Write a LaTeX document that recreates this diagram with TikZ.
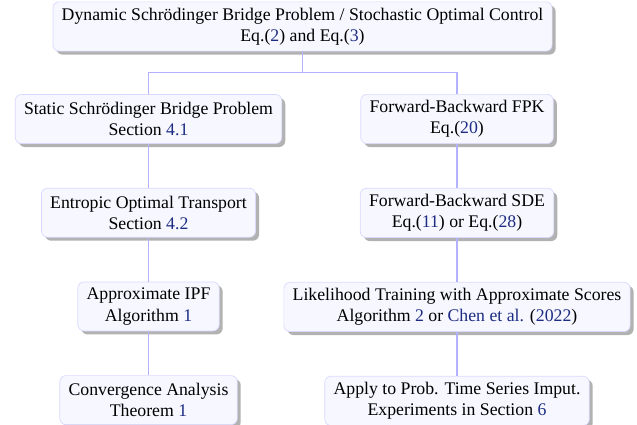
\documentclass[tikz,border=0pt]{standalone}
\usepackage{fontspec}
\setmainfont{Liberation Serif}
\usetikzlibrary{positioning,shadows}
\definecolor{refblue}{RGB}{28,44,130}
\newcommand{\rf}[1]{\textcolor{refblue}{#1}}

\begin{document}
\begin{tikzpicture}[node distance=0.88cm,
    box/.style={draw=blue!15, fill=blue!3, rounded corners=3.5pt, align=center,
      inner xsep=5pt, minimum height=0.98cm, font=\fontsize{10.1}{12.2}\selectfont,
      drop shadow={shadow xshift=2pt, shadow yshift=-2pt, fill=black!30, opacity=1}},
    link/.style={draw=blue!30, line width=0.7pt}]
    \useasboundingbox (0,0) rectangle (12.74,-8.5);
    \node[box] (dsb) at (6.05,-0.53) {Dynamic Schrödinger Bridge Problem / Stochastic Optimal Control\\Eq.(\rf{2}) and Eq.(\rf{3})};
    \node[box] (ssb) at (2.97,-2.38) {Static Schrödinger Bridge Problem\\Section \rf{4.1}};
    \node[box] (eot) [below=of ssb] {Entropic Optimal Transport\\Section \rf{4.2}};
    \node[box] (ipf) [below=of eot] {Approximate IPF\\Algorithm \rf{1}};
    \node[box] (conv) [below=of ipf] {Convergence Analysis\\Theorem \rf{1}};
    \node[box] (fpk) at (9.14,-2.38) {Forward-Backward FPK\\Eq.(\rf{20})};
    \node[box] (sde) [below=of fpk] {Forward-Backward SDE\\Eq.(\rf{11}) or Eq.(\rf{28})};
    \node[box] (lik) [below=of sde] {Likelihood Training with Approximate Scores\\Algorithm \rf{2} or \rf{Chen et al.} (\rf{2022})};
    \node[box] (app) [below=of lik] {Apply to Prob. Time Series Imput.\\Experiments in Section \rf{6}};
    % tree links
    \draw[link] (dsb.south) -- ++(0,-0.42) -| (ssb.north);
    \draw[link] (dsb.south) -- ++(0,-0.42) -| (fpk.north);
    \draw[link] (ssb) -- (eot) (eot) -- (ipf) (ipf) -- (conv);
    \draw[link] (fpk) -- (sde) (sde) -- (lik) (lik) -- (app);
\end{tikzpicture}
\end{document}
